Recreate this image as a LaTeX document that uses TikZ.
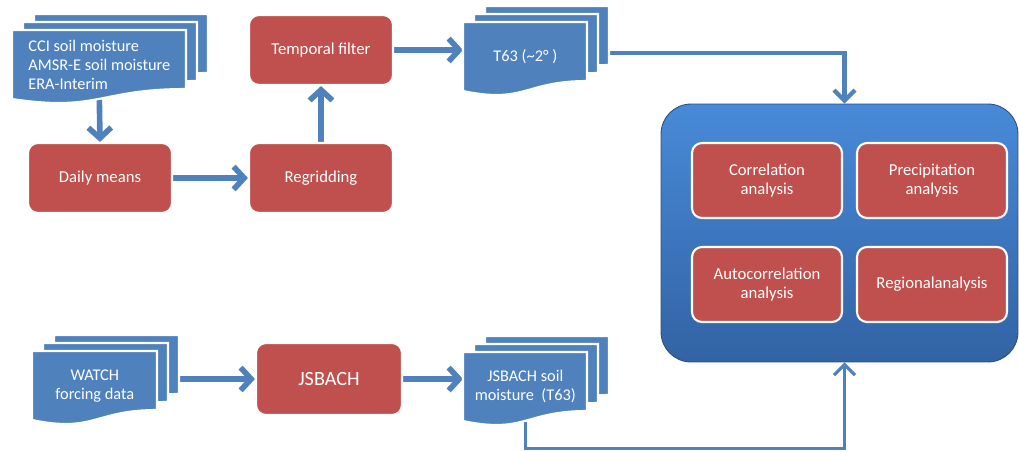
\documentclass[tikz,border=0pt]{standalone}
\usepackage{fontspec}
\setmainfont{Carlito}
\usetikzlibrary{arrows.meta}
\definecolor{docblue}{RGB}{79,129,189}
\definecolor{boxred}{RGB}{192,80,77}
\definecolor{paneltop}{RGB}{72,138,216}
\definecolor{panelbot}{RGB}{50,99,164}
\pgfdeclarelayer{back}
\pgfsetlayers{back,main}
\tikzset{
  sheet/.style={fill=docblue, draw=white, line width=1.2pt},
  doctext/.style={inner sep=0pt, text=white, font=\fontsize{9.3}{10.8}\selectfont,
    minimum height=1.38cm, anchor=north west},
  redbox/.style={fill=boxred, draw=white, line width=1.2pt, rounded corners=0.2cm,
    text=white, font=\fontsize{9.5}{10.8}\selectfont, align=center,
    minimum width=2.88cm, minimum height=1.4cm},
  panel/.style={top color=paneltop, bottom color=panelbot, draw=panelbot!80!black,
    line width=0.5pt, rounded corners=0.6cm, minimum width=7.14cm, minimum height=5.16cm},
  flow/.style={draw=docblue, line width=3.2pt, -{Straight Barb[length=6pt,width=13pt]}},
  link/.style={draw=docblue, line width=2.4pt, -{Straight Barb[length=6pt,width=12pt]}}
}
% one page of a document stack, top left corner at (#1,#2), width #3
\newcommand{\docsheet}[3]{%
  \draw[sheet] (#1,#2) -- (#1+#3,#2) -- (#1+#3,#2+59)
    .. controls (#1+#3/2,#2+59) and (#1+#3/2,#2+82) .. (#1,#2+69) -- cycle;
}
\newcommand{\docstack}[6][align=center]{%
  \docsheet{#3+22}{#4-16}{#5}
  \docsheet{#3+11}{#4-8}{#5}
  \docsheet{#3}{#4}{#5}
  \node[doctext, minimum width=#5*0.02cm, #1] (#2) at (#3,#4) {#6};
}
\begin{document}
\begin{tikzpicture}[x=0.02cm, y=-0.02cm]
\useasboundingbox (0,0) rectangle (1019,451);
% data sets
\docstack[align=left]{cci}{12}{30}{174}{CCI soil moisture\\AMSR-E soil moisture\\ERA-Interim}
\docstack{t63}{463}{22}{124}{T63 (\textasciitilde 2° )}
\docstack{watch}{32}{351}{125}{WATCH\\forcing data}
\docstack{soil}{463}{352}{124}{JSBACH soil\\moisture\ \ (T63)}
% processing
\node[redbox] (daily) at (100,178) {Daily means};
\node[redbox] (regrid) at (321,178) {Regridding};
\node[redbox] (tf) at (321,50) {Temporal filter};
\node[redbox, minimum width=2.92cm, minimum height=1.44cm,
  font=\fontsize{11.5}{13}\selectfont] (jsbach) at (329,379) {JSBACH};
% analysis
\node[panel] (ana) at (839.5,233) {};
\node[redbox, minimum width=3cm, minimum height=1.5cm] (corr) at (767,180.5) {Correlation\\analysis};
\node[redbox, minimum width=3cm, minimum height=1.5cm] (prec) at (932,180.5) {Precipitation\\analysis};
\node[redbox, minimum width=3cm, minimum height=1.5cm] (auto) at (767,284.5) {Autocorrelation\\analysis};
\node[redbox, minimum width=3cm, minimum height=1.5cm] (reg) at (932,284.5) {Regionalanalysis};
% connectors
\begin{pgfonlayer}{back}
\draw[flow] (cci.south) -- (daily.north);
\draw[flow] (daily) -- (regrid);
\draw[flow] (regrid) -- (tf);
\draw[flow] (tf.east) -- (tf.east -| t63.west);
\draw[flow] (jsbach.west -| watch.east) -- (jsbach.west);
\draw[flow] (jsbach.east) -- (jsbach.east -| soil.west);
\draw[link] ([yshift=0.08cm]t63.east) -| ([xshift=0.1cm]ana.north);
\draw[link, line width=1.8pt] (soil.south) -- ++(0,27) -| ([xshift=0.1cm]ana.south);
\end{pgfonlayer}
\end{tikzpicture}
\end{document}
